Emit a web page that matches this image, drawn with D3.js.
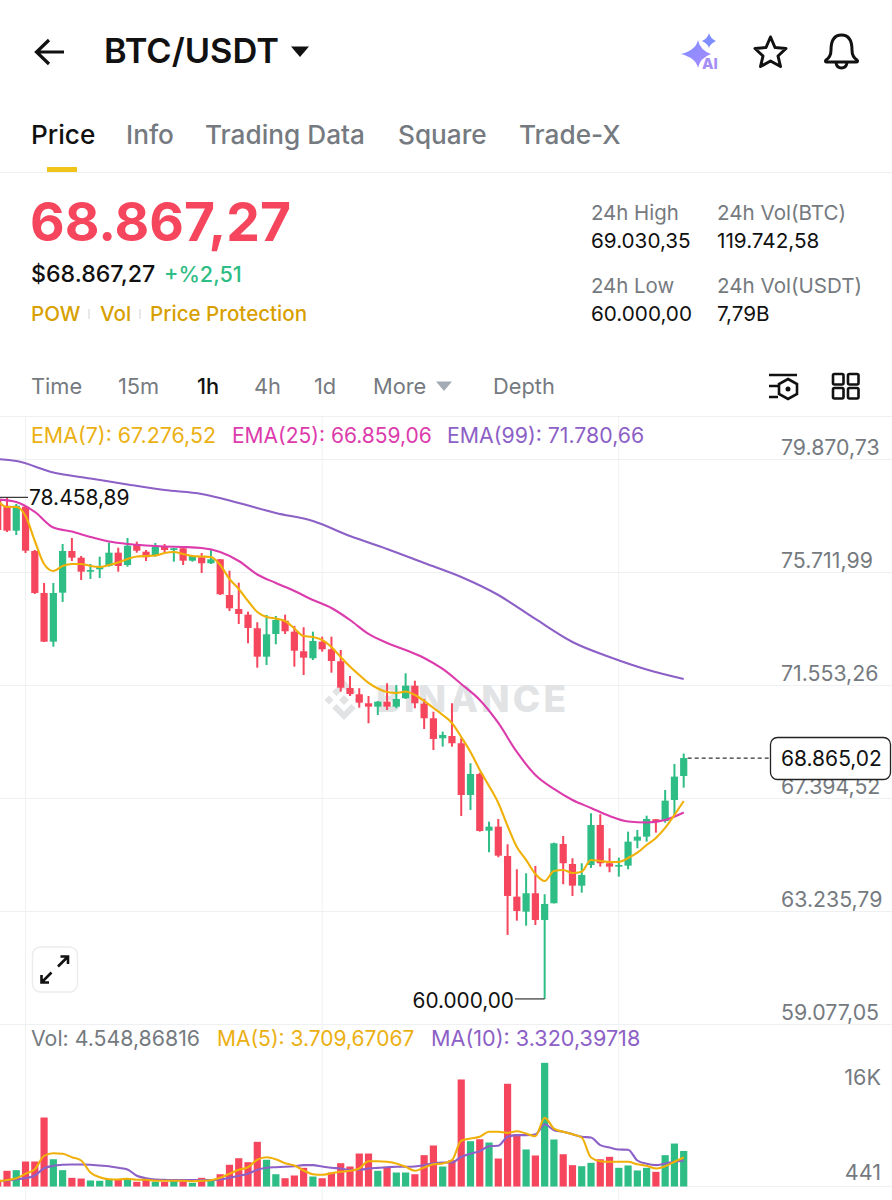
<!DOCTYPE html>
<html><head><meta charset="utf-8">
<script src="https://cdn.jsdelivr.net/npm/d3@7/dist/d3.min.js"></script>
<style>html,body{margin:0;padding:0;background:#fff}svg{display:block}text{font-family:Inter,"Noto Sans",sans-serif}</style>
</head><body><svg id="c" width="892" height="1200" viewBox="0 0 892 1200"></svg>
<script>
const opens=[78362,78152,77232,78116,76485,74940,73148,74951,76485,76239,75724,75812,75933,76423,75970,76706,76460,76301,76669,76522,76585,76128,76254,76033,76180,74866,74351,74141,73641,72596,73431,73920,73516,72794,72537,73148,72868,72426,71444,71212,70881,70756,70940,70756,71065,71528,70866,70329,69593,69677,69409,67506,68279,66192,66340,65261,63764,63212,63889,62906,63521,65703,64967,64168,64930,66402,64993,64868,64904,65824,65972,66612,66549,67322,68205];
const closes=[77258,77232,78152,76496,74940,73148,74940,76485,76239,75724,75786,75908,76423,75933,76680,76496,76254,76644,76522,76585,76128,76301,76033,76180,74892,74377,74167,73652,72596,73420,73946,73530,72816,72559,73173,72868,72437,71455,71223,70903,70756,70940,70756,71039,71528,70881,70329,69567,69714,69409,67506,68279,66181,66340,65272,63789,63237,63889,62906,63495,65729,64993,64168,64562,66402,64993,64868,64930,65788,65972,66623,66524,67296,68180,68865];
const highs=[78459,78436,78215,78152,76522,75308,75308,76743,76964,76301,76007,76276,76791,76607,76964,76828,76522,76780,76743,76596,76644,76338,76412,76522,76191,75760,75319,74252,73862,74130,74093,74141,73725,73678,73516,73332,73332,72842,71885,71433,71149,70965,71617,71554,71985,71712,71039,70572,69836,70881,69593,68673,68327,66524,66623,65692,64772,64625,64893,63852,65751,65997,65177,64993,66833,66796,65545,65199,66156,66218,66744,66623,67690,68647,69030];
const lows=[77185,77185,77074,76412,74903,73137,72964,74609,76117,75418,75455,75492,75908,75724,75908,76423,76117,76276,76412,76092,75970,76092,75676,76007,74866,74277,73799,73089,72191,72290,73052,73431,72228,71922,72474,72780,72007,71308,71149,70719,70145,70450,70634,70697,71039,70697,69935,69162,69284,69284,66733,66954,66156,65398,65214,62354,62880,62696,62722,60000,63514,64220,63789,63911,64820,64868,64662,64500,64772,65545,65788,66119,66487,66733,67775];
const ema7=[78325,78105,78105,77773,76853,76007,75749,75933,76007,76007,75933,75897,75970,76062,76191,76283,76301,76320,76412,76449,76375,76301,76283,76265,75970,75455,75087,74645,74241,74057,74001,73909,73633,73357,73321,73210,72953,72585,72235,71922,71628,71425,71297,71260,71315,71186,70965,70708,70450,70156,69641,69089,68426,67837,67212,66365,65593,65114,64599,64341,64709,64746,64636,64684,65114,65077,65041,65041,65188,65383,65666,65924,66292,66770,67285];
const ema25=[78381,78289,77921,77350,77203,77001,76835,76743,76688,76651,76633,76596,76449,76117,75621,75308,75013,74682,74388,73946,73431,73100,72842,72548,72143,71591,71002,70156,69089,68242,67727,67322,67028,66733,66531,66494,66586,66862];
const ema99=[79908,79797,79374,79153,78933,78730,78583,78252,77884,77589,77037,76559,76044,75529,74866,73983,73136,72585,72125,71775];
const volumes=[860,2010,2090,3200,3200,8830,3490,2090,1110,1020,770,730,930,860,1020,600,860,600,600,730,680,470,1110,860,1570,2780,3620,3110,5720,3420,1570,1060,1410,2390,1280,1060,1790,2980,2560,4220,4220,2010,2520,1790,1790,1570,4010,5250,2560,3370,13700,5800,6050,5630,3580,13150,6690,4740,3970,15830,6020,4130,2730,2600,3030,3490,3800,2390,2690,2050,2390,1880,4010,5500,4549];
const ma5=[640,830,1060,1630,2210,3930,4260,4190,3750,3330,1790,1190,930,900,990,860,860,730,730,730,730,680,730,810,1110,1630,2140,2470,3420,3750,3490,2980,2690,2050,1570,1500,1700,1880,2010,2300,3240,3240,3160,2940,2520,2010,2430,2850,2940,3370,5850,6140,6360,7000,7000,6870,7080,6780,6440,8790,7420,7000,6690,6270,3710,3240,3160,3160,3160,2850,2650,2300,2600,3160,3710];
const ma10=[640,770,930,1060,1410,2340,2650,2780,2820,2820,2780,2690,2600,2390,2180,1370,1060,900,860,810,810,810,810,810,900,1110,1370,1630,2140,2390,2470,2520,2600,2730,2730,2560,2390,2300,2110,2140,2300,2390,2470,2520,2520,2560,2730,2980,3070,3070,3800,4190,4520,5160,5210,6360,6570,6570,6660,7970,7210,7000,6690,6360,6270,5290,4990,4740,4700,3330,2910,2730,2940,3160,3320];
const priceTicks=[79870.73,75711.99,71553.26,67394.52,63235.79,59077.05];
const xGridIdx=[2,34,66];
const tabs=["Price","Info","Trading Data","Square","Trade-X"];
const intervals=["Time","15m","1h","4h","1d","More","Depth"];
const lastPrice=68865.02, maxHigh=78458.89, minLow=60000;

const RED="#F6465D",GREEN="#2EBD85",ORANGE="#F0B008",PINK="#DC3BAC",PURPLE="#8C60C6",GRID="#EFF0F2",GRAY="#757A80",YEL="#D89F00";
const svg=d3.select("#c");
const firstIdx=-1;
const idx=opens.map((_,i)=>i+firstIdx);
const x=d3.scaleLinear().domain([0,73]).range([7,683.7]);
const y=d3.scaleLinear().domain([79870.73,59077.05]).range([459,1024]);
const vy=d3.scaleLinear().domain([0,16000]).range([1186.5,1061.5]);
const loc=d3.formatLocale({decimal:",",thousands:".",grouping:[3],currency:["",""]});
const fmt=loc.format(",.2f");

function T(s,xp,yp,size,fill,weight,anchor){return svg.append("text").attr("x",xp).attr("y",yp).attr("font-size",size).attr("fill",fill).attr("font-weight",weight||400).attr("text-anchor",anchor||"start").text(s);}

// header
svg.append("path").attr("d","M64 52H37M49 40L36.5 52L49 64").attr("fill","none").attr("stroke","#111").attr("stroke-width",3.2);
T("BTC/USDT",104,63,34.4,"#111",600).attr("id","pair");
svg.append("path").attr("d","M291 46.5H309L300 57Z").attr("fill","#111");
const defs=svg.append("defs");
const g=defs.append("linearGradient").attr("id","ai").attr("x1",0).attr("x2",1).attr("y1",0).attr("y2",1);
g.append("stop").attr("offset",0).attr("stop-color","#7E8DFF");g.append("stop").attr("offset",1).attr("stop-color","#A98BFF");
svg.append("path").attr("d","M698 40Q700 50 711 54Q700 58 698 68Q696 58 681 54Q696 50 698 40Z").attr("fill","url(#ai)");
svg.append("path").attr("d","M709 33Q710 38 716 41Q710 44 709 48Q708 44 702 41Q708 38 709 33Z").attr("fill","#7E8DFF");
T("AI",702,69,15,"#A58DF5",800);
svg.append("path").attr("d","M770.5 37L775 47.5L786 48.5L778 56L780.5 66.5L770.5 61L760.5 66.5L763 56L755 48.5L766 47.5Z").attr("fill","none").attr("stroke","#111").attr("stroke-width",3).attr("stroke-linejoin","round");
svg.append("path").attr("d","M826 60Q831 57 831 50Q831 35 841.5 35Q852 35 852 50Q852 57 857 60Q858.5 62 856 62H827Q824.5 62 826 60ZM836 63Q837 68 841.5 68Q846 68 847 63").attr("fill","none").attr("stroke","#111").attr("stroke-width",3).attr("stroke-linejoin","round");

// tabs
const tabX=[31,126,205,398,519];
tabs.forEach((t,i)=>T(t,tabX[i],144,26.2,i==0?"#111":GRAY,500));
svg.append("rect").attr("x",47).attr("y",167).attr("width",30).attr("height",5).attr("fill","#F0C419");
svg.append("line").attr("x1",0).attr("x2",892).attr("y1",172.5).attr("y2",172.5).attr("stroke",GRID);

// price block
T("68.867,27",30,241,53.4,RED,700);
T("$68.867,27",31,282,23.2,"#111",500);
T("+%2,51",164,282,21.6,GREEN,500);
T("POW",31,321,20.6,YEL,500);
T("Vol",100,321,20.6,YEL,500);
T("Price Protection",150,321,20.6,YEL,500);
[89,140].forEach(p=>svg.append("line").attr("x1",p).attr("x2",p).attr("y1",309).attr("y2",319).attr("stroke","#E6E8EA").attr("stroke-width",2));
T("24h High",591,220,20.4,GRAY);T("69.030,35",591,248,20.7,"#111");
T("24h Vol(BTC)",717,220,20.6,GRAY);T("119.742,58",717,248,20.7,"#111");
T("24h Low",591,293,20.4,GRAY);T("60.000,00",591,321,20.7,"#111");
T("24h Vol(USDT)",717,293,20.6,GRAY);T("7,79B",717,321,20.7,"#111");

// interval row
const ivX=[31,118,197,254,314,373,493];
intervals.forEach((t,i)=>T(t,ivX[i],393.5,21.8,i==2?"#111":GRAY,i==2?500:400));
svg.append("path").attr("d","M436 381.5H452L444 391Z").attr("fill","#A5ABB5");
svg.append("path").attr("d","M769 375H797M769 386H778M769 397H778").attr("stroke","#111").attr("stroke-width",2.6).attr("fill","none");
svg.append("path").attr("d","M788 379L797 384V394L788 399L779 394V384Z").attr("fill","none").attr("stroke","#111").attr("stroke-width",2.6);
svg.append("circle").attr("cx",788).attr("cy",389).attr("r",2.5).attr("fill","#111");
[[833,374],[848,374],[833,388],[848,388]].forEach(p=>svg.append("rect").attr("x",p[0]).attr("y",p[1]).attr("width",10.5).attr("height",10.5).attr("rx",1.5).attr("fill","none").attr("stroke","#111").attr("stroke-width",2.6));
svg.append("line").attr("x1",0).attr("x2",892).attr("y1",416.5).attr("y2",416.5).attr("stroke",GRID);

// grid
svg.append("g").selectAll("line").data(xGridIdx).join("line").attr("x1",d=>x(d)).attr("x2",d=>x(d)).attr("y1",417).attr("y2",1200).attr("stroke",GRID);
const axis=d3.axisRight(y).tickValues(priceTicks).tickSize(892).tickFormat(fmt);
const ag=svg.append("g").call(axis);
ag.select(".domain").remove();
ag.selectAll(".tick line").attr("stroke",GRID);
ag.selectAll(".tick text").attr("x",781).attr("dy",-4.8).attr("text-anchor","start").attr("fill",GRAY).attr("font-size",21.3).attr("font-family","Inter");
svg.append("line").attr("x1",0).attr("x2",892).attr("y1",vy(0)).attr("y2",vy(0)).attr("stroke",GRID);

// watermark
const wm="#E2E3E5";
svg.append("g").attr("transform","translate(344,700)").append("path").attr("fill",wm)
  .attr("d","M0,-11.5L-7.5,-4L-11.8,-8.3L0,-20L11.8,-8.3L7.5,-4ZM0,11.5L-7.5,4L-11.8,8.3L0,20L11.8,8.3L7.5,4ZM-19.5,0L-15,-4.5L-10.5,0L-15,4.5ZM19.5,0L15,-4.5L10.5,0L15,4.5ZM0,-5L5,0L0,5L-5,0Z");
T("BINANCE",376,712,37,wm,800).attr("letter-spacing",3.3);

// candles
const candles=svg.append("g").selectAll("g").data(idx).join("g").attr("fill",(d,i)=>closes[i]<opens[i]?RED:GREEN);
candles.append("rect").attr("x",d=>x(d)-1).attr("width",2).attr("y",(d,i)=>y(highs[i])).attr("height",(d,i)=>y(lows[i])-y(highs[i]));
candles.append("rect").attr("x",d=>x(d)-3.6).attr("width",7.2).attr("y",(d,i)=>y(Math.max(opens[i],closes[i]))).attr("height",(d,i)=>Math.max(1.5,Math.abs(y(opens[i])-y(closes[i]))));

// EMA lines
const priceLine=d3.line().x(d=>x(d[0])).y(d=>y(d[1])).curve(d3.curveMonotoneX);
function draw(gen,indices,vals,col,w){svg.append("path").attr("d",gen(indices.map((k,i)=>[k,vals[i]]))).attr("fill","none").attr("stroke",col).attr("stroke-width",w||2.1);}
draw(priceLine,d3.range(-3,74,4),ema99,PURPLE);
draw(priceLine,d3.range(-1,74,2),ema25,PINK);
draw(priceLine,idx,ema7,ORANGE);

// legend
T("EMA(7): 67.276,52",31,443,21.4,"#EBB012");
T("EMA(25): 66.859,06",232,443,21,PINK);
T("EMA(99): 71.780,66",447,443,21.3,PURPLE);

// max/min labels
svg.append("line").attr("x1",0).attr("x2",28).attr("y1",y(maxHigh)).attr("y2",y(maxHigh)).attr("stroke","#333").attr("stroke-width",1.2);
T(fmt(maxHigh),29,505,21,"#111");
svg.append("line").attr("x1",515).attr("x2",x(58)).attr("y1",y(minLow)).attr("y2",y(minLow)).attr("stroke","#333").attr("stroke-width",1.2);
T(fmt(minLow),514,1007.5,20.8,"#111",400,"end");

// current price
svg.append("line").attr("x1",x(73)+4).attr("x2",770).attr("y1",y(lastPrice)).attr("y2",y(lastPrice)).attr("stroke","#333").attr("stroke-width",1.2).attr("stroke-dasharray","4 3");
svg.append("rect").attr("x",770.5).attr("y",737.5).attr("width",120).attr("height",42).attr("rx",7).attr("fill","#fff").attr("stroke","#222").attr("stroke-width",1.3);
T(fmt(lastPrice),781,766,21,"#111");

// expand button
svg.append("rect").attr("x",32.5).attr("y",947).attr("width",45).attr("height",45).attr("rx",8).attr("fill","#fff").attr("stroke","#EAECEE").attr("stroke-width",1.4);
svg.append("path").attr("d","M58 966.5L68 956.5M60.5 956.5H68V964M51.5 972.5L41.5 982.5M41.5 975V982.5H49").attr("fill","none").attr("stroke","#111").attr("stroke-width",2.6);

// volume
T("Vol: 4.548,86816",31,1046,21.3,GRAY);
T("MA(5): 3.709,67067",217,1046,21,"#EBB012");
T("MA(10): 3.320,39718",431,1046,21.6,PURPLE);
T("16K",881,1085,21.6,GRAY,400,"end");
T("441",881,1180,21.6,GRAY,400,"end");
svg.append("g").selectAll("rect").data(idx).join("rect").attr("x",d=>x(d)-3.6).attr("width",7.2).attr("y",(d,i)=>vy(volumes[i])).attr("height",(d,i)=>vy(0)-vy(volumes[i])).attr("fill",(d,i)=>closes[i]<opens[i]?RED:GREEN);
const volLine=d3.line().x(d=>x(d[0])).y(d=>vy(d[1])).curve(d3.curveMonotoneX);
draw(volLine,idx,ma10,PURPLE);
draw(volLine,idx,ma5,ORANGE);
</script></body></html>
